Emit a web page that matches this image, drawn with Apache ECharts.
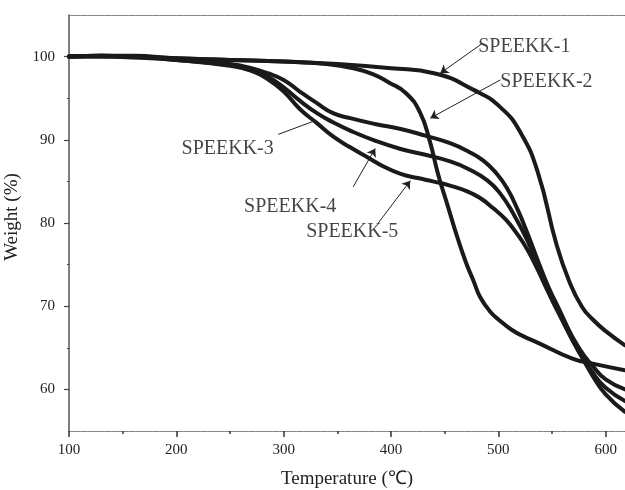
<!DOCTYPE html>
<html><head><meta charset="utf-8">
<script src="https://cdn.jsdelivr.net/npm/echarts@6/dist/echarts.min.js"></script>
<style>html,body{margin:0;padding:0;background:#fff}#c{width:625px;height:490px}</style>
</head><body><div id="c"></div>
<script>
const seriesNames = ['SPEEKK-1', 'SPEEKK-2', 'SPEEKK-3', 'SPEEKK-4', 'SPEEKK-5'];

const temp1 = [100,130,160,200,250,300,350,400,440,477,502,521,537,554,566,578,588,600,618];
const weight1 = [100,100.1,100.1,99.8,99.6,99.4,99.1,98.6,98.0,96.0,93.9,90.8,86.0,77.5,73.0,69.9,68.4,67.0,65.3];

const temp2 = [100,130,160,200,250,300,340,365,383,398,414,427,436,444,453,462,470,477,483,492,502,512,523,537,569,588,618];
const weight2 = [100,100.1,100.0,99.8,99.6,99.4,99.1,98.6,97.9,96.9,95.6,93.3,89.9,85.8,82.0,78.2,75.2,73.0,71.1,69.4,68.2,67.2,66.4,65.6,63.7,63.1,62.3];

const temp3 = [100,130,160,200,250,270,285,300,315,331,346,362,385,409,432,455,472,486,498,508,518,527,537,547,556,575,588,600,618];
const weight3 = [100,100.1,100.0,99.7,99.1,98.6,98.0,97.2,95.8,94.4,93.2,92.6,91.9,91.3,90.5,89.6,88.6,87.5,86.0,84.2,81.6,78.8,75.4,72.2,69.8,64.6,61.6,59.4,57.3];

const temp4 = [100,130,160,200,250,270,285,300,315,331,346,362,385,409,432,455,472,490,502,514,527,537,547,556,575,588,600,618];
const weight4 = [100,100.0,100.0,99.6,99.0,98.5,97.6,96.3,94.7,93.2,92.1,91.1,89.9,88.9,88.2,87.4,86.5,85.1,83.5,81.1,77.9,74.8,71.6,69.2,64.5,62.0,60.2,58.6];

const temp5 = [100,130,160,200,250,270,285,300,315,331,346,362,378,393,409,425,439,455,471,483,495,507,518,527,537,547,556,575,588,600,618];
const weight5 = [100,100.0,99.9,99.6,98.9,98.3,97.3,95.8,93.7,92.0,90.4,89.1,87.9,86.8,85.9,85.4,85.0,84.5,83.8,83.0,81.8,80.4,78.6,76.8,74.3,71.6,69.5,65.0,62.8,61.2,60.0];

const xTickLabels = [100, 200, 300, 400, 500, 600];
const xMinorTicks = [150, 250, 350, 450, 550];
const yTickLabels = [60, 70, 80, 90, 100];
const yMinorTicks = [65, 75, 85, 95];

// annotation text anchors (data coordinates)
const labelTexts = ['SPEEKK-1', 'SPEEKK-2', 'SPEEKK-3', 'SPEEKK-4', 'SPEEKK-5'];
const labelX = [524.2, 544.8, 247.8, 306.1, 363.9];
const labelY = [101.2, 97.0, 88.9, 81.9, 78.9];
// arrows: from (x0,y0) to (x1,y1) in data coordinates
const arrowFromX = [484.2, 501.9, 294.9, 364.8, 388.1];
const arrowFromY = [101.5, 97.2, 90.65, 84.35, 80.0];
const arrowToX = [445.9, 436.6, 330.3, 385.3, 418.0];
const arrowToY = [98.0, 92.6, 92.35, 88.96, 85.09];
const arrowHead = [true, true, false, true, true];

const temps = [temp1, temp2, temp3, temp4, temp5];
const weights = [weight1, weight2, weight3, weight4, weight5];

const FONT = "'Liberation Serif', 'Times New Roman', serif";
const INK = '#1a1a1a';

const chart = echarts.init(document.getElementById('c'), null, {renderer: 'canvas'});

const lineSeries = seriesNames.map((name, i) => ({
  name, type: 'line', xAxisIndex: 0, yAxisIndex: 0,
  data: temps[i].map((t, j) => [t, weights[i][j]]),
  showSymbol: false, smooth: 0.5,
  lineStyle: {color: INK, width: 4, cap: 'round', join: 'round'},
  silent: true, z: 3
}));

const arrowData = arrowFromX.map((x0, i) => [
  {coord: [x0, arrowFromY[i]], symbol: 'none'},
  {coord: [arrowToX[i], arrowToY[i]], symbol: arrowHead[i] ? 'arrow' : 'none', symbolSize: 8}
]);

const option = {
  animation: false,
  backgroundColor: '#fff',
  grid: {left: 69, right: 0, top: 15, bottom: 59, containLabel: false, outerBoundsMode: 'none'},
  xAxis: [
    {
      type: 'value', position: 'bottom', min: 100, max: 618,
      name: 'Temperature (℃)', nameLocation: 'middle', nameGap: 39,
      nameTextStyle: {fontFamily: FONT, fontSize: 19, color: '#222'},
      axisLine: {show: true, lineStyle: {color: '#777', width: 1.2, type: 'dotted'}},
      axisTick: {show: true, inside: false, length: 6, customValues: xTickLabels, lineStyle: {color: '#333', width: 1.5}},
      axisLabel: {show: true, customValues: xTickLabels, margin: 12, fontFamily: FONT, fontSize: 15, color: '#222'},
      splitLine: {show: false}
    },
    {
      type: 'value', position: 'bottom', min: 100, max: 618,
      axisLine: {show: false},
      axisTick: {show: true, inside: false, length: 3, customValues: xMinorTicks, lineStyle: {color: '#333', width: 1.5}},
      axisLabel: {show: false},
      splitLine: {show: false}
    },
    {
      type: 'value', position: 'top', min: 100, max: 618,
      axisLine: {show: true, lineStyle: {color: '#777', width: 1.2, type: 'dotted'}},
      axisTick: {show: false}, axisLabel: {show: false}, splitLine: {show: false}
    }
  ],
  yAxis: [
    {
      type: 'value', position: 'left', min: 55, max: 105,
      name: 'Weight (%)', nameLocation: 'middle', nameGap: 40, nameRotate: 90,
      nameTextStyle: {fontFamily: FONT, fontSize: 19, color: '#222', padding: [0, 0, 0, 12]},
      axisLine: {show: true, lineStyle: {color: '#555', width: 1.5}},
      axisTick: {show: true, inside: false, length: 5, customValues: yTickLabels, lineStyle: {color: '#444', width: 1.2}},
      axisLabel: {show: true, customValues: yTickLabels, margin: 14, fontFamily: FONT, fontSize: 15, color: '#222'},
      splitLine: {show: false}
    },
    {
      type: 'value', position: 'left', min: 55, max: 105,
      axisLine: {show: false},
      axisTick: {show: true, inside: false, length: 2, customValues: yMinorTicks, lineStyle: {color: '#444', width: 1.2}},
      axisLabel: {show: false}, splitLine: {show: false}
    }
  ],
  series: [
    ...lineSeries,
    {
      type: 'line', xAxisIndex: 0, yAxisIndex: 0, data: [], silent: true,
      markLine: {
        silent: true, animation: false,
        lineStyle: {color: '#222', width: 1, type: 'solid'},
        label: {show: false},
        emphasis: {disabled: true},
        data: arrowData
      }
    },
    {
      type: 'scatter', xAxisIndex: 0, yAxisIndex: 0, silent: true, symbolSize: 0,
      data: labelTexts.map((t, i) => [labelX[i], labelY[i], t]),
      label: {show: true, position: 'inside', formatter: p => p.data[2],
        fontFamily: FONT, fontSize: 20, color: '#151515'},
      z: 5
    }
  ]
};
chart.setOption(option);
</script>
</body></html>
